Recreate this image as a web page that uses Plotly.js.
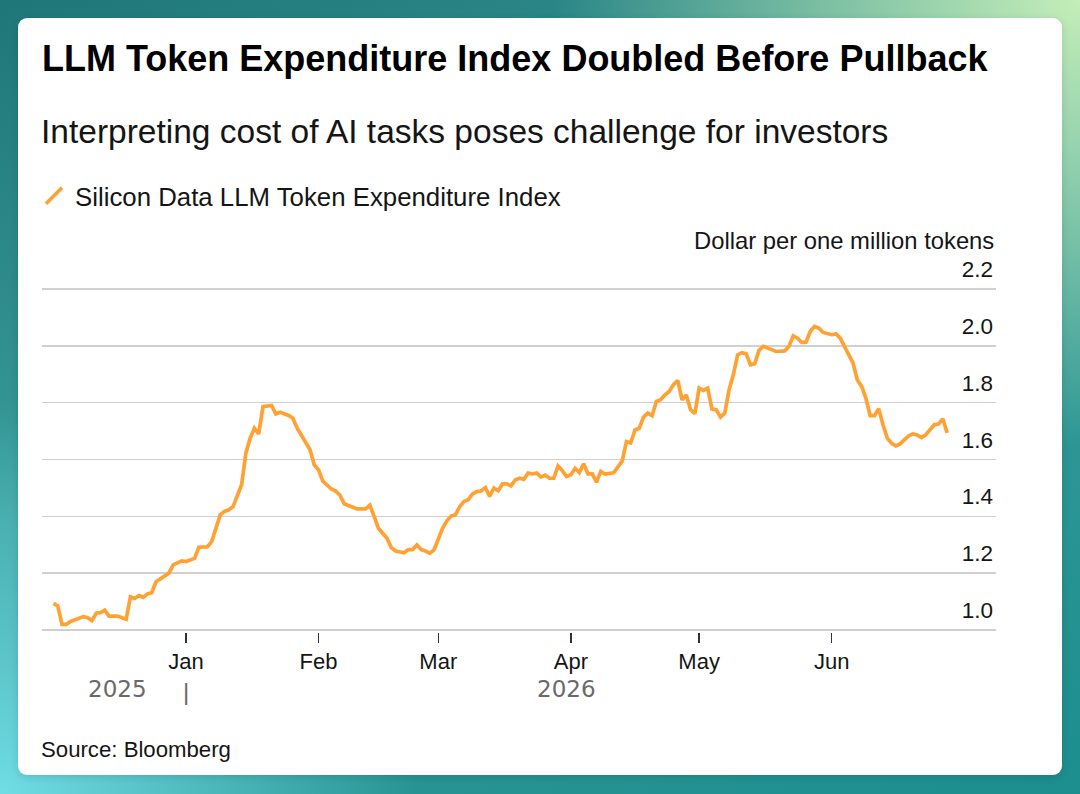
<!DOCTYPE html>
<html>
<head>
<meta charset="utf-8">
<script src="https://cdn.plot.ly/plotly-3.0.1.min.js"></script>
<style>
  html, body { margin: 0; padding: 0; width: 1080px; height: 794px; overflow: hidden; }
  body {
    background:
      radial-gradient(ellipse 70% 80% at 100% 0%, rgba(196,238,184,1) 0%, rgba(196,238,184,0) 70%),
      radial-gradient(ellipse 55% 70% at 0% 100%, rgba(112,220,228,1) 0%, rgba(112,220,228,0) 70%),
      linear-gradient(160deg, #1f7679 0%, #3a9d9b 45%, #1c8e8e 100%);
  }
  #card { position: absolute; left: 18px; top: 18px; width: 1044px; height: 757px; background: #fff; border-radius: 9px; box-shadow: 0 2px 8px rgba(0,0,0,0.12); }
  #chart { position: absolute; left: 0; top: 0; width: 1080px; height: 794px; }
</style>
</head>
<body>
<div id="card"></div>
<div id="chart"></div>
<script>
const seriesName = 'Silicon Data LLM Token Expenditure Index';
const titleText = 'LLM Token Expenditure Index Doubled Before Pullback';
const subtitleText = 'Interpreting cost of AI tasks poses challenge for investors';
const unitText = 'Dollar per one million tokens';
const sourceText = 'Source: Bloomberg';

const dates = [
  '2025-12-01','2025-12-02','2025-12-03','2025-12-04','2025-12-05','2025-12-06','2025-12-07','2025-12-08','2025-12-09','2025-12-10',
  '2025-12-11','2025-12-12','2025-12-13','2025-12-14','2025-12-16','2025-12-17','2025-12-18','2025-12-19','2025-12-20','2025-12-21',
  '2025-12-22','2025-12-23','2025-12-24','2025-12-25','2025-12-26','2025-12-28','2025-12-29','2025-12-31',
  '2026-01-01','2026-01-02','2026-01-03','2026-01-04','2026-01-06','2026-01-07','2026-01-08','2026-01-09','2026-01-10','2026-01-11',
  '2026-01-12','2026-01-13','2026-01-14','2026-01-15','2026-01-16','2026-01-17','2026-01-18','2026-01-19','2026-01-21','2026-01-22',
  '2026-01-23','2026-01-25','2026-01-26','2026-01-27','2026-01-29','2026-01-30','2026-01-31',
  '2026-02-01','2026-02-02','2026-02-04','2026-02-05','2026-02-06','2026-02-07','2026-02-09','2026-02-10','2026-02-12','2026-02-13',
  '2026-02-14','2026-02-15','2026-02-17','2026-02-18','2026-02-19','2026-02-20','2026-02-21','2026-02-22','2026-02-23','2026-02-24',
  '2026-02-25','2026-02-26','2026-02-27','2026-02-28',
  '2026-03-01','2026-03-02','2026-03-03','2026-03-04','2026-03-05','2026-03-06','2026-03-07','2026-03-08','2026-03-09','2026-03-10',
  '2026-03-11','2026-03-12','2026-03-13','2026-03-14','2026-03-15','2026-03-16','2026-03-17','2026-03-18','2026-03-19','2026-03-20',
  '2026-03-21','2026-03-22','2026-03-23','2026-03-24','2026-03-25','2026-03-26','2026-03-27','2026-03-28','2026-03-29','2026-03-30',
  '2026-03-31',
  '2026-04-01','2026-04-02','2026-04-03','2026-04-04','2026-04-05','2026-04-06','2026-04-07','2026-04-08','2026-04-09','2026-04-11',
  '2026-04-12','2026-04-13','2026-04-14','2026-04-15','2026-04-16','2026-04-17','2026-04-18','2026-04-19','2026-04-20','2026-04-21',
  '2026-04-22','2026-04-23','2026-04-24','2026-04-25','2026-04-26','2026-04-27','2026-04-28','2026-04-29','2026-04-30',
  '2026-05-01','2026-05-02','2026-05-03','2026-05-04','2026-05-05','2026-05-06','2026-05-07','2026-05-08','2026-05-09','2026-05-10',
  '2026-05-11','2026-05-12','2026-05-13','2026-05-14','2026-05-15','2026-05-16','2026-05-18','2026-05-19','2026-05-21','2026-05-22',
  '2026-05-23','2026-05-24','2026-05-25','2026-05-26','2026-05-27','2026-05-28','2026-05-29','2026-05-30',
  '2026-06-01','2026-06-02','2026-06-03','2026-06-04','2026-06-06','2026-06-07','2026-06-08','2026-06-09','2026-06-10','2026-06-11',
  '2026-06-12','2026-06-13','2026-06-14','2026-06-15','2026-06-16','2026-06-17','2026-06-18','2026-06-19','2026-06-20','2026-06-21',
  '2026-06-22','2026-06-23','2026-06-25','2026-06-26','2026-06-27','2026-06-28'
];

const values = [
  1.094,1.085,1.020,1.020,1.030,1.035,1.043,1.047,1.043,1.033,
  1.059,1.061,1.070,1.049,1.049,1.043,1.038,1.117,1.111,1.121,
  1.115,1.127,1.131,1.170,1.180,1.200,1.229,1.243,
  1.241,1.246,1.252,1.291,1.293,1.311,1.358,1.405,1.417,1.423,
  1.434,1.472,1.511,1.622,1.675,1.710,1.690,1.786,1.790,1.760,
  1.766,1.755,1.745,1.710,1.657,1.634,1.581,
  1.563,1.524,1.496,1.489,1.474,1.444,1.431,1.426,1.426,1.439,
  1.399,1.358,1.323,1.290,1.278,1.276,1.272,1.283,1.283,1.299,
  1.283,1.278,1.270,1.282,
  1.323,1.358,1.384,1.401,1.405,1.434,1.452,1.458,1.479,1.487,
  1.489,1.501,1.470,1.499,1.490,1.514,1.514,1.507,1.528,1.534,
  1.530,1.552,1.549,1.552,1.538,1.545,1.534,1.534,1.577,1.561,
  1.540,
  1.546,1.569,1.554,1.585,1.549,1.549,1.520,1.558,1.549,1.553,
  1.571,1.594,1.663,1.658,1.704,1.710,1.749,1.763,1.754,1.804,
  1.810,1.827,1.839,1.863,1.878,1.810,1.827,1.775,1.761,
  1.851,1.843,1.851,1.777,1.775,1.749,1.763,1.845,1.898,1.968,
  1.976,1.972,1.933,1.937,1.984,1.998,1.986,1.980,1.982,1.998,
  2.035,2.027,2.012,2.013,2.051,2.068,2.062,2.047,
  2.039,2.042,2.027,1.996,1.939,1.880,1.857,1.816,1.754,1.754,
  1.779,1.722,1.675,1.657,1.648,1.655,1.669,1.683,1.690,1.686,
  1.677,1.687,1.722,1.725,1.743,1.693
];

const monthTickVals = ['2026-01-01','2026-02-01','2026-03-01','2026-04-01','2026-05-01','2026-06-01'];
const monthTickText = ['Jan','Feb','Mar','Apr','May','Jun'];
const yTickVals = [1.0, 1.2, 1.4, 1.6, 1.8, 2.0, 2.2];
const yTickText = ['1.0','1.2','1.4','1.6','1.8','2.0','2.2'];
const yearLabels = ['2025','2026'];
const yearLabelDates = ['2025-12-16','2026-03-31'];
const yearBoundary = '2026-01-01';

const trace = {
  type: 'scatter',
  mode: 'lines',
  name: seriesName,
  x: dates,
  y: values,
  line: { color: '#ffa133', width: 3.7 },
  hoverinfo: 'skip',
  cliponaxis: false
};

const FONT = 'Liberation Sans, Arial, Helvetica, sans-serif';

// plot area: x 42..996 px, y 248..632 px; value 1.0 sits at 630 px, 284.2 px per unit
const PX_PER_UNIT = 284.2;
const PLOT_TOP = 248, PLOT_BOTTOM = 632, PLOT_H = PLOT_BOTTOM - PLOT_TOP;
const Y0_PX = 630;
const yMin = 1.0 - (PLOT_BOTTOM - Y0_PX) / PX_PER_UNIT;
const yMax = yMin + PLOT_H / PX_PER_UNIT;
const py = p => (PLOT_BOTTOM - p) / PLOT_H;

const annotations = [
  { text: subtitleText, xref: 'paper', yref: 'paper', x: 0, xshift: -3, y: py(131), xanchor: 'left', yanchor: 'middle',
    showarrow: false, font: { size: 33.5, color: '#151515', family: FONT } },
  { text: unitText, xref: 'paper', yref: 'paper', x: 1, y: py(240), xanchor: 'right', yanchor: 'middle',
    showarrow: false, font: { size: 23.8, color: '#151515', family: FONT } },
  { text: sourceText, xref: 'paper', yref: 'paper', x: 0, xshift: -3, y: py(749), xanchor: 'left', yanchor: 'middle',
    showarrow: false, font: { size: 22.2, color: '#151515', family: FONT } },
  { text: '|', xref: 'x', yref: 'paper', x: yearBoundary, y: py(691), xanchor: 'center', yanchor: 'middle',
    showarrow: false, font: { size: 24, color: '#6a6a6a', family: FONT } }
];
yearLabels.forEach((lab, i) => {
  annotations.push({ text: lab, xref: 'x', yref: 'paper', x: yearLabelDates[i], y: py(689),
    xanchor: 'center', yanchor: 'middle', showarrow: false,
    font: { size: 23, color: '#6a6a6a', family: 'DejaVu Sans, sans-serif' } });
});

const layout = {
  width: 1080,
  height: 794,
  paper_bgcolor: 'rgba(0,0,0,0)',
  plot_bgcolor: 'rgba(0,0,0,0)',
  margin: { l: 42, r: 84, t: PLOT_TOP, b: 794 - PLOT_BOTTOM, autoexpand: false },
  font: { family: FONT, color: '#151515' },
  title: {
    text: '<b>' + titleText + '</b>',
    font: { size: 36, color: '#000', family: FONT },
    xref: 'container', yref: 'container',
    x: 42 / 1080, xanchor: 'left',
    y: 1 - 58 / 794, yanchor: 'middle',
    pad: { l: 0, r: 0, t: 0, b: 0 },
    automargin: false
  },
  showlegend: true,
  legend: {
    xref: 'container', yref: 'container',
    x: 35 / 1080, xanchor: 'left',
    y: 1 - 196 / 794, yanchor: 'middle',
    font: { size: 25.8, color: '#151515', family: FONT },
    bgcolor: 'rgba(0,0,0,0)',
    itemwidth: 30
  },
  xaxis: {
    type: 'date',
    range: ['2025-11-28 07:40', '2026-07-09 10:19'],
    tickvals: monthTickVals,
    ticktext: monthTickText,
    showgrid: false,
    zeroline: false,
    showline: false,
    ticks: 'outside',
    ticklen: 10,
    tickwidth: 1.5,
    tickcolor: '#333',
    tickfont: { size: 22, color: '#151515', family: FONT },
    fixedrange: true,
    automargin: false
  },
  yaxis: {
    side: 'right',
    range: [yMin, yMax],
    tickvals: yTickVals,
    ticktext: yTickText,
    ticklabelposition: 'inside top',
    ticklabelshift: -4,
    ticks: '',
    showgrid: true,
    gridcolor: '#d0d0d0',
    gridwidth: 1.5,
    zeroline: false,
    showline: false,
    tickfont: { size: 22.5, color: '#151515', family: FONT },
    fixedrange: true,
    automargin: false
  },
  annotations: annotations
};

Plotly.newPlot('chart', [trace], layout, { displayModeBar: false, staticPlot: true }).then(() => {
  document.querySelectorAll('#chart .legendlines path').forEach(p => {
    p.setAttribute('d', 'M11,8L27,-8');
  });
});
</script>
</body>
</html>
